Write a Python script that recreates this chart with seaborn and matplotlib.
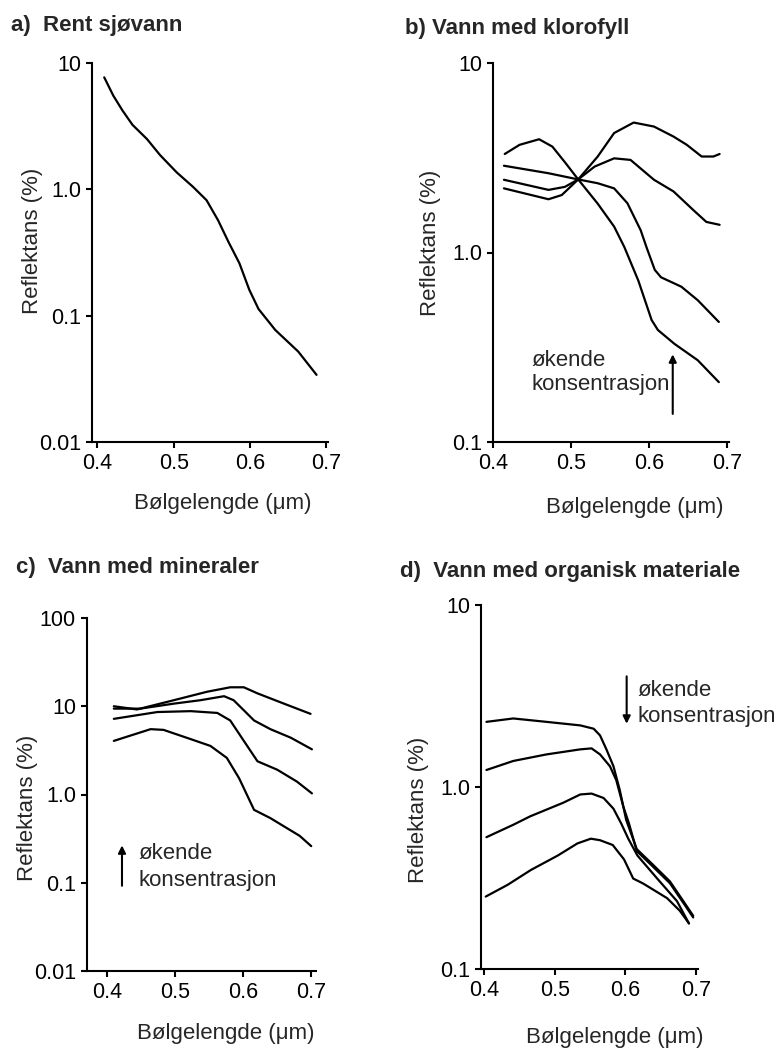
import matplotlib
matplotlib.use("Agg")
import matplotlib.pyplot as plt
from matplotlib.ticker import NullLocator
import seaborn as sns
import pandas as pd

# ---------------- data ----------------
# a) Rent sjøvann
a_wl = [0.409, 0.421, 0.433, 0.446, 0.465, 0.482, 0.504, 0.525, 0.543, 0.558,
        0.572, 0.586, 0.599, 0.611, 0.633, 0.663, 0.687]
a_refl = [7.7, 5.5, 4.2, 3.24, 2.50, 1.87, 1.36, 1.05, 0.82, 0.57,
          0.38, 0.26, 0.16, 0.113, 0.077, 0.052, 0.034]

# b) Vann med klorofyll (b1 = lowest concentration ... b4 = highest)
b1_wl = [0.415, 0.434, 0.459, 0.476, 0.493, 0.508, 0.534, 0.555, 0.568, 0.586,
         0.603, 0.611, 0.632, 0.662, 0.689]
b1_refl = [3.31, 3.70, 3.96, 3.62, 2.96, 2.46, 1.81, 1.37, 1.07, 0.71,
           0.44, 0.39, 0.33, 0.27, 0.207]
b2_wl = [0.414, 0.471, 0.509, 0.534, 0.555, 0.572, 0.589, 0.597, 0.607, 0.615,
         0.641, 0.662, 0.689]
b2_refl = [2.87, 2.62, 2.43, 2.32, 2.18, 1.82, 1.31, 1.05, 0.81, 0.74,
           0.66, 0.56, 0.43]
b3_wl = [0.414, 0.471, 0.492, 0.509, 0.530, 0.555, 0.576, 0.606, 0.631, 0.656,
         0.673, 0.690]
b3_refl = [2.42, 2.14, 2.22, 2.43, 2.84, 3.14, 3.08, 2.42, 2.10, 1.68,
           1.45, 1.40]
b4_wl = [0.414, 0.471, 0.488, 0.509, 0.534, 0.555, 0.580, 0.606, 0.631, 0.648,
         0.667, 0.682, 0.690]
b4_refl = [2.18, 1.91, 2.01, 2.43, 3.21, 4.27, 4.85, 4.62, 4.09, 3.70,
           3.21, 3.21, 3.31]

# c) Vann med mineraler (c1 = highest concentration ... c4 = lowest)
c1_wl = [0.410, 0.444, 0.498, 0.547, 0.581, 0.601, 0.621, 0.660, 0.699]
c1_refl = [10.0, 9.2, 11.7, 14.6, 16.4, 16.4, 14.0, 10.7, 8.2]
c2_wl = [0.410, 0.449, 0.498, 0.537, 0.572, 0.586, 0.601, 0.616, 0.640, 0.670, 0.701]
c2_refl = [9.4, 9.4, 10.7, 11.7, 13.0, 11.7, 9.0, 6.9, 5.5, 4.4, 3.25]
c3_wl = [0.410, 0.474, 0.523, 0.562, 0.581, 0.601, 0.621, 0.650, 0.679, 0.701]
c3_refl = [7.2, 8.6, 8.8, 8.4, 6.9, 4.05, 2.38, 1.91, 1.40, 1.03]
c4_wl = [0.410, 0.464, 0.483, 0.523, 0.552, 0.576, 0.594, 0.616, 0.640, 0.659,
         0.683, 0.700]
c4_refl = [4.05, 5.5, 5.4, 4.24, 3.55, 2.6, 1.53, 0.67, 0.54, 0.44, 0.34, 0.26]

# d) Vann med organisk materiale (d1 = lowest concentration ... d4 = highest)
d1_wl = [0.403, 0.441, 0.488, 0.536, 0.555, 0.564, 0.573, 0.583, 0.592, 0.601,
         0.616, 0.639, 0.663, 0.682, 0.696]
d1_refl = [2.28, 2.38, 2.28, 2.18, 2.09, 1.92, 1.61, 1.30, 0.96, 0.66,
           0.456, 0.374, 0.303, 0.236, 0.196]
d2_wl = [0.403, 0.441, 0.488, 0.536, 0.552, 0.564, 0.578, 0.587, 0.597, 0.605,
         0.616, 0.639, 0.663, 0.682, 0.696]
d2_refl = [1.24, 1.39, 1.51, 1.61, 1.63, 1.51, 1.30, 1.09, 0.78, 0.63,
           0.445, 0.365, 0.296, 0.231, 0.192]
d3_wl = [0.403, 0.441, 0.465, 0.512, 0.536, 0.552, 0.569, 0.583, 0.594, 0.604,
         0.617, 0.645, 0.673, 0.690]
d3_refl = [0.53, 0.62, 0.69, 0.82, 0.91, 0.92, 0.87, 0.76, 0.63, 0.52,
           0.42, 0.314, 0.236, 0.178]
d4_wl = [0.402, 0.433, 0.466, 0.504, 0.532, 0.551, 0.564, 0.582, 0.598, 0.611,
         0.625, 0.659, 0.677, 0.690]
d4_refl = [0.25, 0.29, 0.35, 0.42, 0.49, 0.52, 0.51, 0.48, 0.40, 0.314,
           0.295, 0.245, 0.209, 0.178]

titles = ["a)  Rent sjøvann", "b) Vann med klorofyll",
          "c)  Vann med mineraler", "d)  Vann med organisk materiale"]
xlabel = "Bølgelengde (μm)"
ylabel = "Reflektans (%)"
x_ticks = [0.4, 0.5, 0.6, 0.7]
x_ticklabels = ["0.4", "0.5", "0.6", "0.7"]
ann_top = "økende"
ann_bottom = "konsentrasjon"


def frame(curves):
    rows = []
    for name, (wl, rf) in curves.items():
        for w, r in zip(wl, rf):
            rows.append({"wl": w, "refl": r, "curve": name})
    return pd.DataFrame(rows)


# ---------------- style ----------------
sns.set_theme(style="ticks")
plt.rcParams["font.family"] = ["Liberation Sans", "DejaVu Sans"]
plt.rcParams["axes.linewidth"] = 1.5
plt.rcParams["xtick.major.width"] = 1.5
plt.rcParams["ytick.major.width"] = 1.5
plt.rcParams["xtick.major.size"] = 4
plt.rcParams["ytick.major.size"] = 4
plt.rcParams["axes.edgecolor"] = "black"
plt.rcParams["xtick.color"] = "black"
plt.rcParams["ytick.color"] = "black"

TICK_FS = 15.5
LABEL_FS = 16
TITLE_FS = 16
ANN_FS = 16

W, H = 782, 1052
fig = plt.figure(figsize=(W / 100, H / 100), dpi=100)


def rect(l, r, t, b):
    return [l / W, 1 - b / H, (r - l) / W, (b - t) / H]


panels = [
    dict(rect=rect(92, 328, 63, 442), xlim=(0.393, 0.702), ylim=(0.01, 10),
         yt=[0.01, 0.1, 1, 10], ytl=["0.01", "0.1", "1.0", "10"],
         curves={"a": (a_wl, a_refl)},
         ylab=(-0.25, 0.53), xlab=(0.555, -0.161)),
    dict(rect=rect(493, 729, 63, 442), xlim=(0.401, 0.702), ylim=(0.1, 10),
         yt=[0.1, 1, 10], ytl=["0.1", "1.0", "10"],
         curves={"b1": (b1_wl, b1_refl), "b2": (b2_wl, b2_refl),
                 "b3": (b3_wl, b3_refl), "b4": (b4_wl, b4_refl)},
         ylab=(-0.263, 0.525), xlab=(0.60, -0.172)),
    dict(rect=rect(87, 316, 618, 971), xlim=(0.3706, 0.707), ylim=(0.01, 100),
         yt=[0.01, 0.1, 1, 10, 100], ytl=["0.01", "0.1", "1.0", "10", "100"],
         curves={"c1": (c1_wl, c1_refl), "c2": (c2_wl, c2_refl),
                 "c3": (c3_wl, c3_refl), "c4": (c4_wl, c4_refl)},
         ylab=(-0.262, 0.462), xlab=(0.607, -0.178)),
    dict(rect=rect(481, 698, 605, 969), xlim=(0.3953, 0.7028), ylim=(0.1, 10),
         yt=[0.1, 1, 10], ytl=["0.1", "1.0", "10"],
         curves={"d1": (d1_wl, d1_refl), "d2": (d2_wl, d2_refl),
                 "d3": (d3_wl, d3_refl), "d4": (d4_wl, d4_refl)},
         ylab=(-0.29, 0.437), xlab=(0.617, -0.187)),
]

axes = []
for p in panels:
    ax = fig.add_axes(p["rect"])
    df = frame(p["curves"])
    sns.lineplot(data=df, x="wl", y="refl", units="curve", estimator=None,
                 sort=False, color="black", lw=1.6, ax=ax, legend=False)
    ax.set_yscale("log")
    ax.set_xlim(*p["xlim"])
    ax.set_ylim(*p["ylim"])
    ax.set_yticks(p["yt"])
    ax.set_yticklabels(p["ytl"])
    ax.yaxis.set_minor_locator(NullLocator())
    ax.set_xticks(x_ticks)
    ax.set_xticklabels(x_ticklabels)
    ax.tick_params(axis="both", labelsize=TICK_FS, pad=4, direction="out")
    sns.despine(ax=ax)
    ax.set_xlabel(xlabel, fontsize=LABEL_FS)
    ax.set_ylabel(ylabel, fontsize=LABEL_FS)
    ax.yaxis.set_label_coords(*p["ylab"])
    ax.yaxis.label.set_va("center")
    ax.xaxis.set_label_coords(*p["xlab"])
    ax.xaxis.label.set_va("center")
    ax.set_facecolor("white")
    axes.append(ax)

# titles
fig.text(11 / W, 1 - 31 / H, titles[0], fontsize=TITLE_FS, fontweight="bold", va="baseline")
fig.text(405 / W, 1 - 34 / H, titles[1], fontsize=TITLE_FS, fontweight="bold", va="baseline")
fig.text(16 / W, 1 - 573 / H, titles[2], fontsize=TITLE_FS, fontweight="bold", va="baseline")
fig.text(400 / W, 1 - 577 / H, titles[3], fontsize=TITLE_FS, fontweight="bold", va="baseline")

# annotations
arrow = dict(arrowstyle="-|>", color="black", lw=1.5, mutation_scale=11)
axb, axc, axd = axes[1], axes[2], axes[3]
axb.text(0.449, 0.27, ann_top, fontsize=ANN_FS, va="center", ha="left")
axb.text(0.449, 0.20, ann_bottom, fontsize=ANN_FS, va="center", ha="left")
axb.annotate("", xy=(0.630, 0.30), xytext=(0.630, 0.136), arrowprops=arrow)

axc.text(0.4466, 0.213, ann_top, fontsize=ANN_FS, va="center", ha="left")
axc.text(0.4466, 0.107, ann_bottom, fontsize=ANN_FS, va="center", ha="left")
axc.annotate("", xy=(0.422, 0.285), xytext=(0.422, 0.086), arrowprops=arrow)

axd.text(0.617, 3.38, ann_top, fontsize=ANN_FS, va="center", ha="left", clip_on=False)
axd.text(0.617, 2.45, ann_bottom, fontsize=ANN_FS, va="center", ha="left", clip_on=False)
axd.annotate("", xy=(0.6017, 2.15), xytext=(0.6017, 4.2), arrowprops=arrow)

fig.savefig("out.png", dpi=100, facecolor="white")
